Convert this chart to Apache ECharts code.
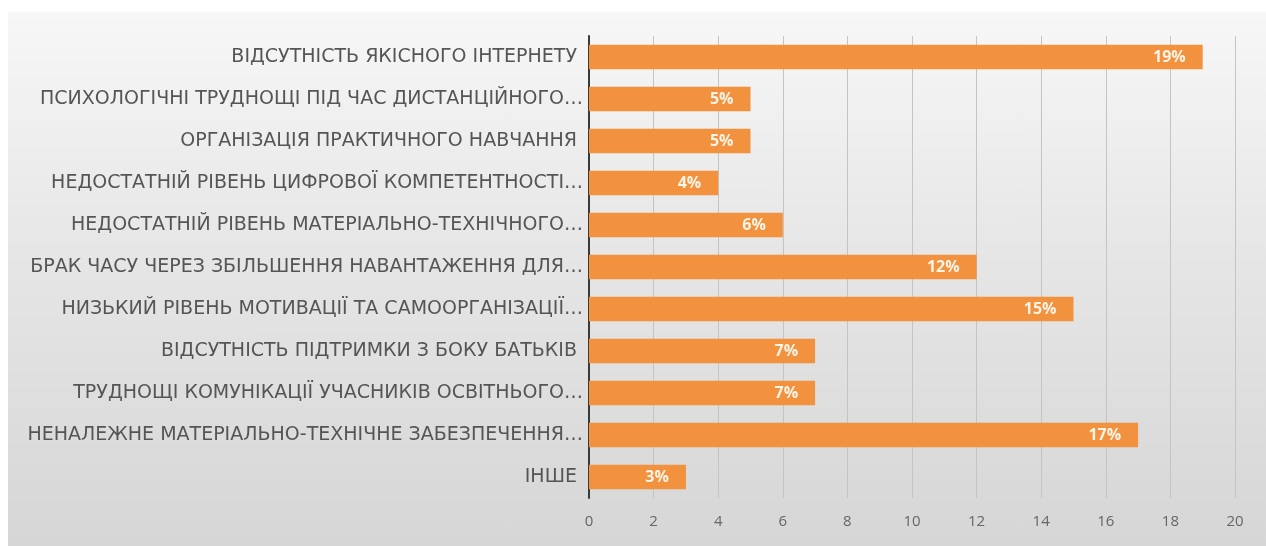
<!DOCTYPE html>
<html>
<head>
<meta charset="utf-8">
<script src="https://cdn.jsdelivr.net/npm/echarts@6/dist/echarts.min.js"></script>
<style>
html,body{margin:0;padding:0;background:#ffffff;}
#bg{position:absolute;left:8px;top:12px;width:1258px;height:534px;background:linear-gradient(180deg,#f7f7f7 0%,#e6e6e6 45%,#d6d6d6 100%);}
#chart{position:absolute;left:0;top:0;width:1266px;height:546px;}
</style>
</head>
<body>
<div id="bg"></div>
<div id="chart"></div>
<script>
var categories = [
  'ВІДСУТНІСТЬ ЯКІСНОГО ІНТЕРНЕТУ ',
  'ПСИХОЛОГІЧНІ ТРУДНОЩІ ПІД ЧАС ДИСТАНЦІЙНОГО…',
  'ОРГАНІЗАЦІЯ ПРАКТИЧНОГО НАВЧАННЯ ',
  'НЕДОСТАТНІЙ РІВЕНЬ ЦИФРОВОЇ КОМПЕТЕНТНОСТІ…',
  'НЕДОСТАТНІЙ РІВЕНЬ МАТЕРІАЛЬНО-ТЕХНІЧНОГО…',
  'БРАК ЧАСУ ЧЕРЕЗ ЗБІЛЬШЕННЯ НАВАНТАЖЕННЯ ДЛЯ…',
  'НИЗЬКИЙ РІВЕНЬ МОТИВАЦІЇ ТА САМООРГАНІЗАЦІЇ…',
  'ВІДСУТНІСТЬ ПІДТРИМКИ З БОКУ БАТЬКІВ ',
  'ТРУДНОЩІ КОМУНІКАЦІЇ УЧАСНИКІВ ОСВІТНЬОГО…',
  'НЕНАЛЕЖНЕ МАТЕРІАЛЬНО-ТЕХНІЧНЕ ЗАБЕЗПЕЧЕННЯ…',
  'ІНШЕ '
];
var values = [19, 5, 5, 4, 6, 12, 15, 7, 7, 17, 3];
var xTicks = {min: 0, max: 20, interval: 2};

var chart = echarts.init(document.getElementById('chart'));
chart.setOption({
  backgroundColor: 'transparent',
  animation: false,
  grid: {left: 589, right: 31, top: 36, bottom: 48, containLabel: false},
  xAxis: {
    type: 'value',
    min: xTicks.min, max: xTicks.max, interval: xTicks.interval,
    axisLine: {show: false},
    axisTick: {show: false},
    axisLabel: {color: '#666666', fontSize: 15, fontFamily: 'Open Sans', margin: 16},
    splitLine: {show: true, lineStyle: {color: '#c4c4c4', width: 1}}
  },
  yAxis: {
    type: 'category',
    data: categories,
    inverse: true,
    axisLine: {show: true, lineStyle: {color: '#3a3a3a', width: 2}},
    axisTick: {show: false},
    axisLabel: {color: '#555555', fontSize: 19, fontFamily: 'DejaVu Sans', margin: 6}
  },
  series: [{
    type: 'bar',
    data: values,
    barWidth: '58%',
    itemStyle: {color: '#F2913E'},
    label: {
      show: true,
      position: 'insideRight',
      formatter: function (p) { return p.value + '%'; },
      color: '#fff4e6',
      fontSize: 16,
      fontWeight: 'bold',
      fontFamily: 'Open Sans',
      distance: 17
    }
  }]
});
</script>
</body>
</html>
